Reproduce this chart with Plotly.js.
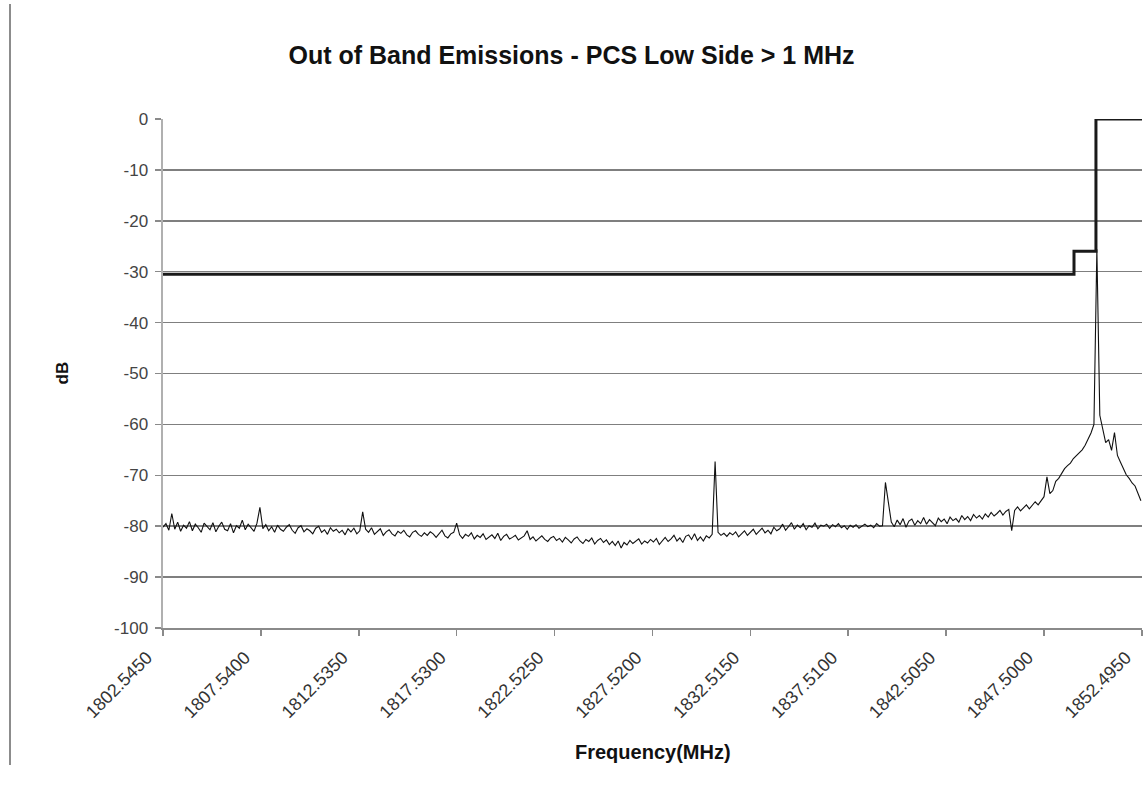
<!DOCTYPE html>
<html>
<head>
<meta charset="utf-8">
<script src="https://cdn.plot.ly/plotly-3.0.1.min.js"></script>
<style>html,body{margin:0;padding:0;background:#fff;}#chart{width:1143px;height:793px;}</style>
</head>
<body>
<div id="chart"></div>
<script>
// Sweep grid (MHz)
var freqStart = 1802.545;
var freqStep = 0.14985;

// Measured emission level (dB), one value per sweep point
var emissionDb = [
-80.2,-79.5,-80.8,-77.5,-80.6,-79.2,-81.0,-79.8,-80.4,-79.1,
-80.9,-79.6,-80.3,-81.2,-79.4,-80.1,-80.7,-79.3,-81.1,-80.0,
-79.2,-80.6,-80.9,-79.5,-81.3,-79.9,-80.4,-78.8,-80.7,-79.6,
-80.2,-81.0,-79.4,-76.3,-80.5,-79.7,-80.9,-80.1,-81.2,-79.8,
-80.6,-81.0,-80.2,-79.7,-80.8,-81.4,-80.3,-79.9,-81.1,-80.5,
-80.9,-81.5,-80.4,-80.0,-81.2,-80.7,-81.6,-80.3,-81.0,-80.6,
-81.3,-80.8,-81.7,-80.5,-81.1,-80.4,-81.5,-80.9,-77.2,-80.6,
-81.2,-80.3,-81.6,-81.0,-80.5,-81.8,-81.1,-80.7,-81.5,-81.9,
-81.0,-81.4,-80.8,-81.7,-82.1,-81.2,-80.9,-81.6,-82.0,-81.3,
-81.8,-81.1,-81.5,-82.2,-81.4,-80.8,-81.9,-82.3,-81.5,-81.2,
-79.4,-81.7,-82.4,-81.6,-82.0,-81.3,-82.5,-81.8,-82.2,-81.5,
-82.6,-82.1,-81.7,-82.4,-81.4,-82.8,-82.0,-81.6,-82.5,-82.2,
-81.8,-82.7,-82.3,-81.9,-80.9,-82.6,-82.1,-82.9,-82.4,-81.9,
-82.6,-83.0,-82.3,-82.0,-82.8,-82.4,-83.1,-82.2,-82.7,-83.3,
-82.5,-82.1,-82.9,-83.4,-82.6,-83.0,-82.3,-83.5,-82.8,-82.4,
-83.2,-82.7,-83.6,-83.0,-83.8,-82.9,-84.3,-83.2,-83.7,-82.8,
-83.4,-83.0,-82.5,-83.5,-82.9,-83.3,-82.6,-83.1,-82.4,-83.6,
-82.8,-82.2,-83.0,-82.5,-81.8,-82.9,-82.3,-83.2,-82.0,-81.7,
-82.6,-81.5,-82.8,-82.1,-82.9,-81.9,-82.3,-81.6,-67.3,-81.2,
-81.8,-81.4,-82.0,-81.3,-81.7,-81.1,-82.1,-81.5,-80.9,-81.8,
-81.2,-80.6,-81.6,-81.0,-80.4,-81.3,-80.8,-81.5,-80.2,-80.9,
-80.5,-79.6,-80.8,-80.1,-79.3,-80.6,-79.8,-80.3,-79.5,-80.7,
-79.9,-80.2,-79.4,-80.5,-79.8,-80.0,-79.6,-80.4,-79.7,-80.1,
-79.5,-80.3,-79.9,-80.6,-79.8,-80.2,-79.7,-80.4,-80.0,-79.6,
-80.1,-79.8,-80.3,-79.5,-80.0,-79.9,-71.4,-75.6,-79.2,-80.1,
-78.8,-79.7,-78.5,-80.2,-79.0,-78.6,-79.8,-78.9,-79.5,-78.3,
-79.6,-78.7,-79.3,-79.9,-78.4,-79.1,-78.6,-79.5,-78.2,-78.9,
-78.5,-79.2,-77.9,-78.7,-78.1,-78.9,-77.7,-78.4,-77.9,-78.6,
-77.6,-78.2,-77.3,-78.0,-77.5,-76.9,-77.8,-77.1,-76.7,-80.9,
-76.9,-76.2,-77.0,-76.4,-75.8,-76.6,-75.9,-75.2,-75.8,-74.9,
-74.2,-70.3,-73.6,-73.0,-71.2,-70.6,-69.6,-68.7,-68.1,-67.6,
-66.7,-66.1,-65.6,-65.0,-64.1,-63.0,-61.7,-60.0,-25.6,-58.2,
-61.0,-63.6,-63.0,-65.1,-61.6,-66.1,-67.4,-68.6,-69.9,-70.6,
-71.5,-72.1,-73.4,-75.0
];

// Emission limit mask
var limitFreq = [1802.545, 1849.03, 1849.03, 1850.15, 1850.15, 1853.0];
var limitDb   = [-30.5, -30.5, -26.0, -26.0, 0, 0];

// Axis ticks
var xTickLabels = ['1802.5450','1807.5400','1812.5350','1817.5300','1822.5250','1827.5200',
                   '1832.5150','1837.5100','1842.5050','1847.5000','1852.4950'];
var yTickValues = [0,-10,-20,-30,-40,-50,-60,-70,-80,-90,-100];
var yTickLabels = ['0','-10','-20','-30','-40','-50','-60','-70','-80','-90','-100'];

var emissionFreq = emissionDb.map(function(_, i){ return freqStart + i * freqStep; });
var xTickValues = xTickLabels.map(function(s){ return parseFloat(s); });

var traces = [
  {x: emissionFreq, y: emissionDb, type: 'scatter', mode: 'lines',
   line: {color: '#111', width: 1.1}, hoverinfo: 'x+y'},
  {x: limitFreq, y: limitDb, type: 'scatter', mode: 'lines',
   line: {color: '#1a1a1a', width: 3}, hoverinfo: 'x+y'}
];

var font = 'Liberation Sans, Arial, sans-serif';
var layout = {
  width: 1143, height: 793,
  margin: {l: 163, r: 1, t: 119, b: 165},
  paper_bgcolor: '#fff', plot_bgcolor: '#fff',
  showlegend: false,
  font: {family: font, color: '#222', size: 12},
  title: {text: 'Out of Band Emissions - PCS Low Side > 1 MHz',
          font: {family: font, size: 25, color: '#111', weight: 'bold'},
          x: 0.5, xref: 'container', y: 1 - 55/793, yref: 'container', yanchor: 'middle'},
  xaxis: {range: [1802.545, 1852.5], tickmode: 'array', tickvals: xTickValues, ticktext: xTickLabels,
          tickangle: -45, tickfont: {size: 18, color: '#333'}, showgrid: false, zeroline: false,
          showline: true, linecolor: '#8a8a8a', linewidth: 2, ticks: 'outside', ticklen: 6,
          tickcolor: '#8a8a8a', tickwidth: 1.5, ticklabeloverflow: 'allow',
          ticklabelshift: -16, ticklabelstandoff: 4},
  yaxis: {range: [-100, 0], tickmode: 'array', tickvals: yTickValues, ticktext: yTickLabels,
          tickfont: {size: 17, color: '#444'}, showgrid: true, gridcolor: '#7f7f7f', gridwidth: 1.5,
          zeroline: false, showline: true, linecolor: '#b0b0b0', linewidth: 2.5,
          ticks: 'outside', ticklen: 6, tickcolor: '#8a8a8a', tickwidth: 1.5,
          ticklabelstandoff: 3},
  annotations: [
    {text: 'dB', xref: 'paper', yref: 'paper', x: (62 - 163) / 979, y: 0.5, textangle: -90,
     xanchor: 'center', yanchor: 'middle',
     showarrow: false, font: {family: font, size: 17, color: '#111', weight: 'bold'}},
    {text: 'Frequency(MHz)', xref: 'paper', yref: 'paper', x: 0.5, y: -(752 - 628) / 509,
     xanchor: 'center', yanchor: 'middle',
     showarrow: false, font: {family: font, size: 20, color: '#111', weight: 'bold'}}
  ],
  shapes: [
    {type: 'line', xref: 'paper', yref: 'paper', x0: (10 - 163) / 979, x1: (10 - 163) / 979,
     y0: (628 - 4) / 509, y1: (628 - 765) / 509, line: {color: '#8c8c8c', width: 2}}
  ]
};

Plotly.newPlot('chart', traces, layout, {staticPlot: true, displayModeBar: false});
</script>
</body>
</html>
